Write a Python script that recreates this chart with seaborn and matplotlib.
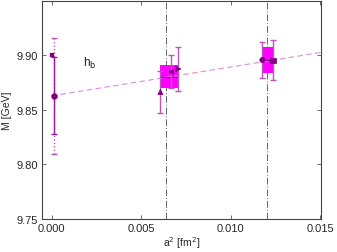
import numpy as np
import pandas as pd
import matplotlib
matplotlib.use("Agg")
import matplotlib.pyplot as plt
import seaborn as sns
from matplotlib.patches import Rectangle

# ---- data ----
lat_a2 = [0.00607, 0.00667, 0.00707, 0.01176, 0.01235]
lat_M = [9.866, 9.8843, 9.887, 9.8952, 9.895]
lat_err = [0.019, 0.015, 0.020, 0.016, 0.0185]
lat_marker = ["^", "<", ">", "o", "s"]

cont_a2 = [0.00015]
cont_M = [9.8625]
cont_err_stat = [0.035]
cont_err_tot = [0.053]

exp_a2 = [0.0]
exp_M = [9.8995]

fit_a2 = [0.0, 0.015]
fit_M = [9.8625, 9.9020]

box_a2 = [0.00657, 0.012055]
box_w = [0.0010, 0.00059]
box_M = [9.8797, 9.895]
box_h = [0.0105, 0.012]

vline_a2 = [0.00637, 0.01204]

xticks = [0.0, 0.005, 0.010, 0.015]
yticks = [9.75, 9.80, 9.85, 9.90]

# ---- style ----
sns.set_style("ticks")
plt.rcParams['font.family'] = ['Liberation Sans', 'DejaVu Sans']

dark = "#800080"
mid = "#9a1a9a"
light = "#bb55bb"
fitc = "#d68fd6"
boxc = "#ff00ff"

fig = plt.figure(figsize=(3.37, 2.53), dpi=100)
ax = fig.add_axes([0.124, 0.130, 0.828, 0.862])

# vertical dash-dot lines
for xv in vline_a2:
    ax.axvline(xv, color="#666666", lw=0.7, ls=(0, (7, 2, 1, 2)), zorder=1)

# boxes
for xc, w, yc, h in zip(box_a2, box_w, box_M, box_h):
    ax.add_patch(Rectangle((xc - w / 2, yc - h), w, 2 * h, color=boxc, lw=0, zorder=2))
    ax.plot([xc - w / 2, xc + w / 2], [yc, yc], color=dark, lw=0.7, zorder=3)

# fit line
fit_df = pd.DataFrame({"a2": fit_a2, "M": fit_M})
sns.lineplot(data=fit_df, x="a2", y="M", ax=ax, color=fitc, lw=0.8,
             linestyle=(0, (5, 3)), zorder=2)

# lattice points
for x, y, e, m in zip(lat_a2, lat_M, lat_err, lat_marker):
    ax.errorbar([x], [y], yerr=[e], fmt="none", ecolor=light, elinewidth=1.0,
                capsize=2.2, capthick=1.0, zorder=4)
lat_df = pd.DataFrame({"a2": lat_a2, "M": lat_M, "mk": lat_marker})
sns.scatterplot(data=lat_df, x="a2", y="M", style="mk", markers={m: m for m in lat_marker},
                color=dark, s=14, edgecolor=dark, linewidth=0.5, ax=ax, legend=False, zorder=5)

# continuum point
ec = ax.errorbar(cont_a2, cont_M, yerr=cont_err_tot, fmt="none", ecolor=light,
                 elinewidth=1.0, capsize=2.2, capthick=1.0, zorder=3)
ec[2][0].set_linestyle((0, (1, 1.5)))
ax.errorbar(cont_a2, cont_M, yerr=cont_err_stat, fmt="none", ecolor=mid,
            elinewidth=1.0, capsize=2.2, capthick=1.0, zorder=4)
sns.scatterplot(x=cont_a2, y=cont_M, marker="o", color=dark, s=18, edgecolor=dark,
                ax=ax, legend=False, zorder=5)

# experiment
sns.scatterplot(x=exp_a2, y=exp_M, marker="s", color=dark, s=9, edgecolor=dark,
                ax=ax, legend=False, zorder=5)

ax.text(0.00213, 9.893, r"h$_\mathrm{b}$", fontsize=8.5, ha="center", va="center")

ax.set_xlim(-0.00055, 0.01502)
ax.set_ylim(9.75, 9.949)
ax.set_xticks(xticks)
ax.set_xticklabels(["0.000", "0.005", "0.010", "0.015"])
ax.set_yticks(yticks)
ax.set_yticklabels(["9.75", "9.80", "9.85", "9.90"])
ax.tick_params(direction="in", top=True, right=True, labelsize=8, length=3,
               width=0.6, color="#555555", pad=3)
for s in ax.spines.values():
    s.set_color("#444444")
    s.set_linewidth(0.8)
ax.set_xlabel(r"a$^2$ [fm$^2$]", fontsize=7.5, labelpad=1)
ax.set_ylabel("M [GeV]", fontsize=7.5, labelpad=3)

fig.savefig("out.png", dpi=100)
